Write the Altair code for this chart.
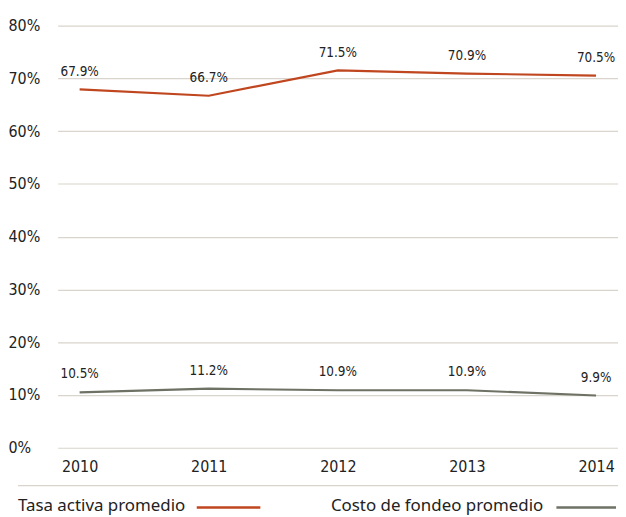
import altair as alt
import pandas as pd

years = ["2010", "2011", "2012", "2013", "2014"]
tasa_activa = [67.9, 66.7, 71.5, 70.9, 70.5]
costo_fondeo = [10.5, 11.2, 10.9, 10.9, 9.9]
series_names = ["Tasa activa promedio", "Costo de fondeo promedio"]
series_colors = ["#c0461f", "#6e7264"]
y_ticks = [0, 10, 20, 30, 40, 50, 60, 70, 80]

rows = []
for name, vals in zip(series_names, [tasa_activa, costo_fondeo]):
    for yr, v in zip(years, vals):
        rows.append({"year": yr, "value": v, "series": name, "label": f"{v:.1f}%"})
df = pd.DataFrame(rows)

W, H = 564, 425
NARROW = "'DejaVu Sans Condensed', 'Liberation Sans Narrow', 'Liberation Sans', sans-serif"
REG = "'Noto Sans', 'Open Sans', sans-serif"

x_enc = alt.X("year:N", sort=years, scale=alt.Scale(type="point", padding=0.17),
              axis=alt.Axis(title=None, labelAngle=0, ticks=False, domain=False,
                            labelFont=NARROW, labelFontSize=16, labelColor="#222",
                            labelPadding=11, grid=False))
y_enc = alt.Y("value:Q", scale=alt.Scale(domain=[0, 80], nice=False),
              axis=alt.Axis(title=None, values=y_ticks, labelExpr="datum.value + '%'",
                            ticks=False, domain=False, labelAlign="left",
                            labelPadding=50, labelFont=NARROW, labelFontSize=16,
                            labelColor="#222", gridColor="#d9d4cc", gridWidth=1.2))
color_enc = alt.Color("series:N", scale=alt.Scale(domain=series_names, range=series_colors),
                      legend=None)

base = alt.Chart(df)
lines = base.mark_line(strokeWidth=2.2).encode(x=x_enc, y=y_enc, color=color_enc,
                                               detail="series:N")
labels = base.mark_text(font=NARROW, fontSize=13.5, color="#222", dy=-18).encode(
    x=alt.X("year:N", sort=years), y="value:Q", text="label:N")

one = pd.DataFrame({"k": [0]})
sep = alt.Chart(one).mark_rule(color="#d9d4cc", strokeWidth=1.2).encode(
    x=alt.value(-40), x2=alt.value(W), y=alt.value(H + 38))

leg_layers = []
leg_text_x = [-40, 275]
leg_line_x = [(140, 204), (502, 562)]
for name, col, tx, (lx1, lx2) in zip(series_names, series_colors, leg_text_x, leg_line_x):
    ldf = pd.DataFrame({"series": [name]})
    leg_layers.append(alt.Chart(ldf).mark_text(font=REG, fontSize=17,
                                               fontWeight="normal",
                                               color="#222", align="left", baseline="middle")
                      .encode(x=alt.value(tx), y=alt.value(H + 59), text="series:N"))
    leg_layers.append(alt.Chart(ldf).mark_rule(color=col, strokeWidth=2.5).encode(
        x=alt.value(lx1), x2=alt.value(lx2), y=alt.value(H + 60)))

chart = alt.layer(lines, labels, sep, *leg_layers).properties(
    width=W, height=H,
    autosize=alt.AutoSizeParams(type="none"),
    padding={"left": 50, "top": 16, "right": 0, "bottom": 66},
).configure_view(stroke=None)

chart.save("out.html", embed_options={"renderer": "svg", "actions": False})
